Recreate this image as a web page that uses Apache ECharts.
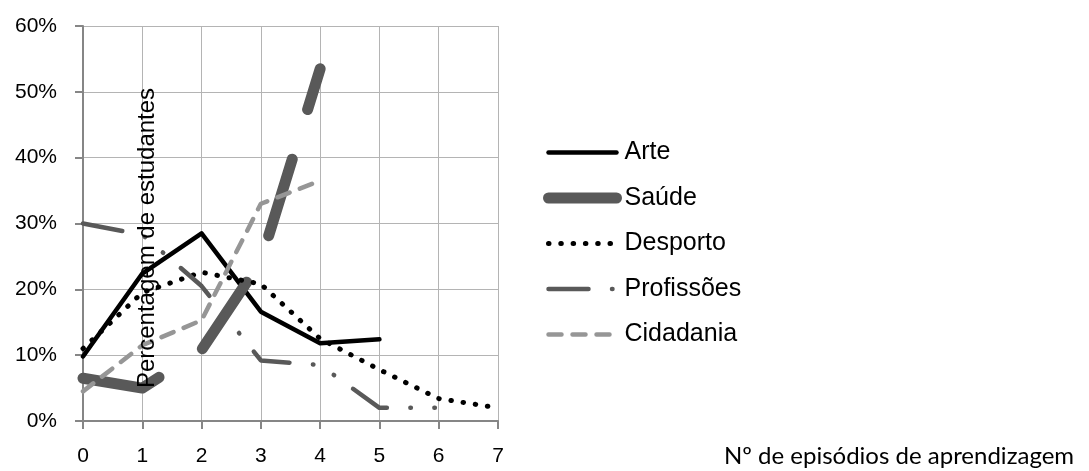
<!DOCTYPE html>
<html>
<head>
<meta charset="utf-8">
<script src="https://cdn.jsdelivr.net/npm/echarts@6/dist/echarts.min.js"></script>
<style>
  html, body { margin: 0; padding: 0; background: #fff; }
  #chart { width: 1089px; height: 471px; }
</style>
</head>
<body>
<div id="chart"></div>
<script>
// Number of learning episodes (x) and share of students (%) per area
const episodes = [0, 1, 2, 3, 4, 5, 6, 7];
const yTicks = [0, 10, 20, 30, 40, 50, 60];
const seriesNames = ['Arte', 'Saúde', 'Desporto', 'Profissões', 'Cidadania'];
const arte = [9.8, 22.4, 28.5, 16.6, 11.8, 12.4];
const saude = [6.5, 5.0, 10.8, 24.3, 53.5];
const desporto = [11.0, 19.5, 22.6, 20.8, 12.5, 7.8, 3.4, 2.0];
const profissoes = [30.0, 28.3, 20.5, 9.2, 8.5, 2.0, 2.0];
const cidadania = [4.5, 11.5, 15.3, 33.0, 36.5];
const yTitle = 'Percentagem de estudantes';
const xTitle = 'Nº de episódios de aprendizagem';

const FONT = '"Liberation Sans", Arial, sans-serif';

// pair each value with its episode count
const pts = arr => arr.map((v, i) => [episodes[i], v]);

const styles = {
  'Arte':       { color: '#000000', width: 4.5, type: 'solid', cap: 'round' },
  'Saúde':      { color: '#595959', width: 11,  type: [80, 52], cap: 'round' },
  'Desporto':   { color: '#000000', width: 5,   type: [0.5, 11.8], cap: 'round' },
  'Profissões': { color: '#595959', width: 4.5, type: [40, 23.5, 0.5, 23.5, 0.5, 23.3], cap: 'round' },
  'Cidadania':  { color: '#969696', width: 4.5, type: [13, 11], cap: 'round' }
};
const values = [arte, saude, desporto, profissoes, cidadania];

const chart = echarts.init(document.getElementById('chart'), null, { renderer: 'canvas' });

chart.setOption({
  animation: false,
  backgroundColor: '#ffffff',
  grid: { left: 83, right: 591, top: 26, bottom: 50, containLabel: false },
  xAxis: {
    type: 'value',
    min: episodes[0],
    max: episodes[episodes.length - 1],
    interval: 1,
    axisLine: { show: true, onZero: false, lineStyle: { color: '#868686', width: 2 } },
    axisTick: { show: true, length: 8, lineStyle: { color: '#868686', width: 2 } },
    splitLine: { show: true, lineStyle: { color: '#b4b4b4', width: 1 } },
    axisLabel: { fontFamily: FONT, fontSize: 21, color: '#000', margin: 25 }
  },
  yAxis: {
    type: 'value',
    min: yTicks[0],
    max: yTicks[yTicks.length - 1],
    interval: 10,
    axisLine: { show: true, lineStyle: { color: '#868686', width: 2 } },
    axisTick: { show: true, length: 8, lineStyle: { color: '#868686', width: 2 } },
    splitLine: { show: true, lineStyle: { color: '#b4b4b4', width: 1 } },
    axisLabel: { fontFamily: FONT, fontSize: 21, color: '#000', margin: 26, formatter: '{value}%' }
  },
  legend: {
    orient: 'vertical',
    left: 543,
    top: 140,
    padding: 0,
    itemWidth: 68,
    itemHeight: 12,
    itemGap: 20.5,
    selectedMode: false,
    itemStyle: { opacity: 0 },
    textStyle: { fontFamily: FONT, fontSize: 25, color: '#000', padding: [0, 0, 0, 3] },
    data: seriesNames.map(n => ({
      name: n,
      lineStyle: { width: styles[n].width, type: styles[n].type, cap: styles[n].cap, color: styles[n].color }
    }))
  },
  series: seriesNames.map((n, k) => ({
    name: n,
    type: 'line',
    data: pts(values[k]),
    symbol: 'none',
    showSymbol: false,
    smooth: false,
    color: styles[n].color,
    lineStyle: {
      color: styles[n].color,
      width: styles[n].width,
      type: styles[n].type,
      cap: styles[n].cap,
      join: 'round'
    },
    emphasis: { disabled: true }
  })),
  graphic: [
    {
      type: 'text',
      x: 147,
      y: 238,
      rotation: Math.PI / 2,
      z: 100,
      style: {
        text: yTitle,
        font: '24px ' + FONT,
        fill: '#000',
        align: 'center',
        verticalAlign: 'middle'
      }
    },
    {
      type: 'text',
      x: 899,
      y: 456,
      z: 100,
      style: {
        text: xTitle,
        font: '24px Lato, "Open Sans", sans-serif',
        fill: '#000',
        align: 'center',
        verticalAlign: 'middle'
      }
    }
  ]
});
</script>
</body>
</html>
